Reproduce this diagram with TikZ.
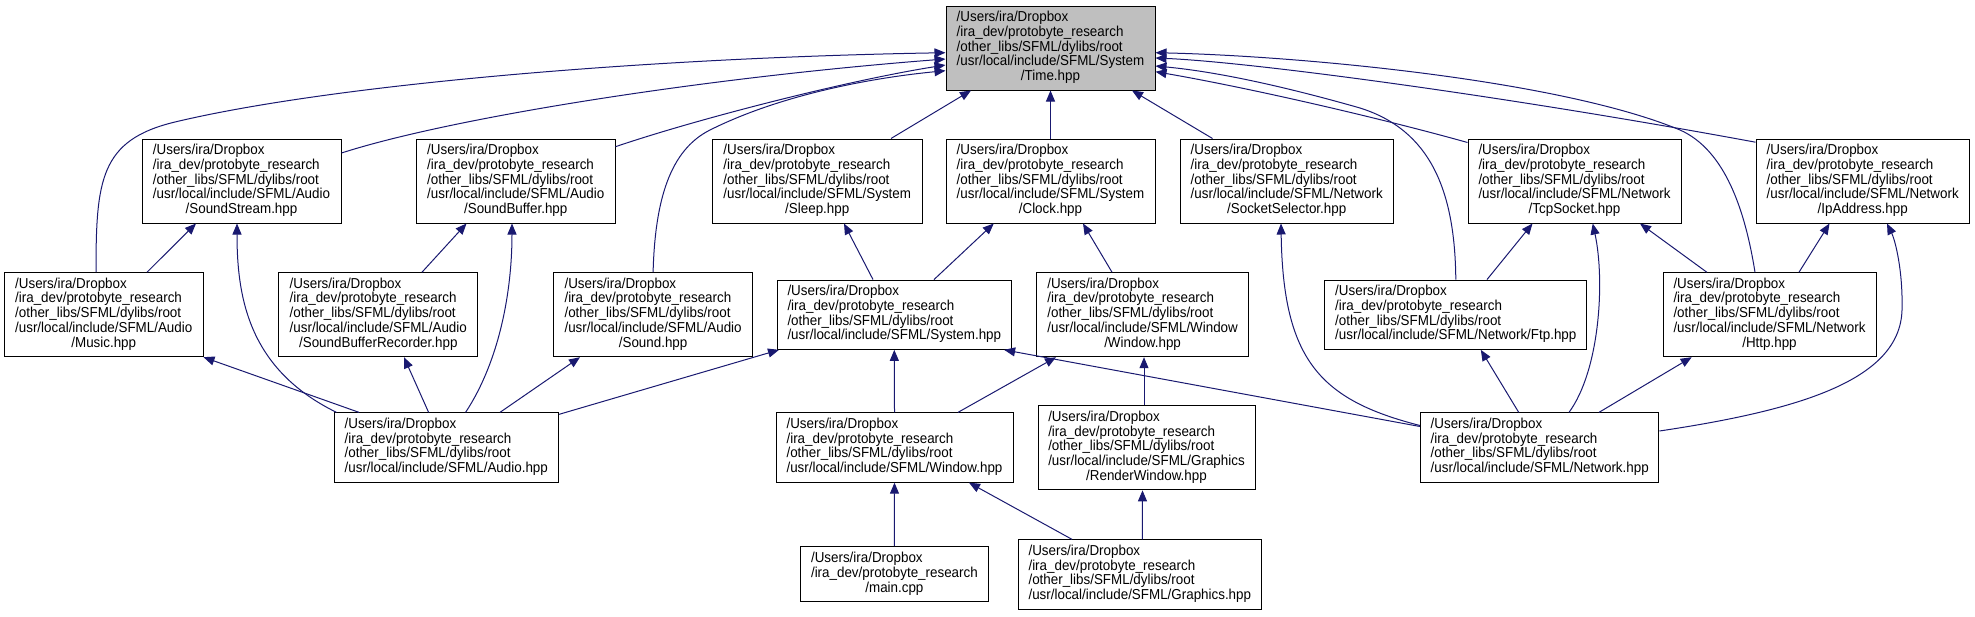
\documentclass[tikz,border=0pt]{standalone}
\usepackage{fontspec}
\setmainfont{Liberation Sans}[FakeStretch=0.93]
\usetikzlibrary{arrows.meta}
\definecolor{DoxNavy}{RGB}{25,25,112}
\definecolor{DoxGray}{RGB}{191,191,191}
\newcommand{\lastc}[1]{\multicolumn{1}{@{}c@{}}{#1}}
\newcommand{\hdrtext}[1]{\begin{tabular}{@{}l@{}}#1\end{tabular}}
\tikzset{
  hdrbox/.style={draw=black,line width=1pt,inner sep=0pt,minimum height=84pt,
    font=\fontsize{14.4}{14.7}\selectfont},
  shortbox/.style={hdrbox,minimum height=69.3pt},
  focusbox/.style={hdrbox,fill=DoxGray},
  incflow/.style={{Triangle[length=11pt,width=9pt]}-,draw=DoxNavy,line width=1pt}
}

\begin{document}
\begin{tikzpicture}[x=1pt,y=-1pt]
  \useasboundingbox (0,0) rectangle (1975,616);
  \node[focusbox,minimum width=209pt] (time) at (1050.5,48) {\hdrtext{/Users/ira/Dropbox\\/ira\_dev/protobyte\_research\\/other\_libs/SFML/dylibs/root\\/usr/local/include/SFML/System\\\lastc{/Time.hpp}}};
  \node[hdrbox,minimum width=199pt] (soundstream) at (241.5,181) {\hdrtext{/Users/ira/Dropbox\\/ira\_dev/protobyte\_research\\/other\_libs/SFML/dylibs/root\\/usr/local/include/SFML/Audio\\\lastc{/SoundStream.hpp}}};
  \node[hdrbox,minimum width=198.5pt] (soundbuffer) at (515.75,181) {\hdrtext{/Users/ira/Dropbox\\/ira\_dev/protobyte\_research\\/other\_libs/SFML/dylibs/root\\/usr/local/include/SFML/Audio\\\lastc{/SoundBuffer.hpp}}};
  \node[hdrbox,minimum width=209.5pt] (sleep) at (817.25,181) {\hdrtext{/Users/ira/Dropbox\\/ira\_dev/protobyte\_research\\/other\_libs/SFML/dylibs/root\\/usr/local/include/SFML/System\\\lastc{/Sleep.hpp}}};
  \node[hdrbox,minimum width=209pt] (clock) at (1050.5,181) {\hdrtext{/Users/ira/Dropbox\\/ira\_dev/protobyte\_research\\/other\_libs/SFML/dylibs/root\\/usr/local/include/SFML/System\\\lastc{/Clock.hpp}}};
  \node[hdrbox,minimum width=213.4pt] (socketsel) at (1286.7,181) {\hdrtext{/Users/ira/Dropbox\\/ira\_dev/protobyte\_research\\/other\_libs/SFML/dylibs/root\\/usr/local/include/SFML/Network\\\lastc{/SocketSelector.hpp}}};
  \node[hdrbox,minimum width=213pt] (tcpsocket) at (1574.5,181) {\hdrtext{/Users/ira/Dropbox\\/ira\_dev/protobyte\_research\\/other\_libs/SFML/dylibs/root\\/usr/local/include/SFML/Network\\\lastc{/TcpSocket.hpp}}};
  \node[hdrbox,minimum width=213.4pt] (ipaddress) at (1862.7,181) {\hdrtext{/Users/ira/Dropbox\\/ira\_dev/protobyte\_research\\/other\_libs/SFML/dylibs/root\\/usr/local/include/SFML/Network\\\lastc{/IpAddress.hpp}}};
  \node[hdrbox,minimum width=198.5pt] (music) at (103.75,314.7) {\hdrtext{/Users/ira/Dropbox\\/ira\_dev/protobyte\_research\\/other\_libs/SFML/dylibs/root\\/usr/local/include/SFML/Audio\\\lastc{/Music.hpp}}};
  \node[hdrbox,minimum width=198.7pt] (sbrecorder) at (378.3,314.7) {\hdrtext{/Users/ira/Dropbox\\/ira\_dev/protobyte\_research\\/other\_libs/SFML/dylibs/root\\/usr/local/include/SFML/Audio\\\lastc{/SoundBufferRecorder.hpp}}};
  \node[hdrbox,minimum width=199pt] (sound) at (653.1,314.7) {\hdrtext{/Users/ira/Dropbox\\/ira\_dev/protobyte\_research\\/other\_libs/SFML/dylibs/root\\/usr/local/include/SFML/Audio\\\lastc{/Sound.hpp}}};
  \node[shortbox,minimum width=234.6pt] (system) at (894.3,314.7) {\hdrtext{/Users/ira/Dropbox\\/ira\_dev/protobyte\_research\\/other\_libs/SFML/dylibs/root\\/usr/local/include/SFML/System.hpp}};
  \node[hdrbox,minimum width=212pt] (windowwin) at (1142.6,314.7) {\hdrtext{/Users/ira/Dropbox\\/ira\_dev/protobyte\_research\\/other\_libs/SFML/dylibs/root\\/usr/local/include/SFML/Window\\\lastc{/Window.hpp}}};
  \node[shortbox,minimum width=261.7pt] (ftp) at (1455.8,314.7) {\hdrtext{/Users/ira/Dropbox\\/ira\_dev/protobyte\_research\\/other\_libs/SFML/dylibs/root\\/usr/local/include/SFML/Network/Ftp.hpp}};
  \node[hdrbox,minimum width=213pt] (http) at (1769.5,314.7) {\hdrtext{/Users/ira/Dropbox\\/ira\_dev/protobyte\_research\\/other\_libs/SFML/dylibs/root\\/usr/local/include/SFML/Network\\\lastc{/Http.hpp}}};
  \node[shortbox,minimum width=224.5pt] (audio) at (446.25,447.5) {\hdrtext{/Users/ira/Dropbox\\/ira\_dev/protobyte\_research\\/other\_libs/SFML/dylibs/root\\/usr/local/include/SFML/Audio.hpp}};
  \node[shortbox,minimum width=237pt] (window) at (894.5,447.5) {\hdrtext{/Users/ira/Dropbox\\/ira\_dev/protobyte\_research\\/other\_libs/SFML/dylibs/root\\/usr/local/include/SFML/Window.hpp}};
  \node[hdrbox,minimum width=217pt] (renderwin) at (1146.5,447.85) {\hdrtext{/Users/ira/Dropbox\\/ira\_dev/protobyte\_research\\/other\_libs/SFML/dylibs/root\\/usr/local/include/SFML/Graphics\\\lastc{/RenderWindow.hpp}}};
  \node[shortbox,minimum width=238.5pt] (network) at (1539.7,447.5) {\hdrtext{/Users/ira/Dropbox\\/ira\_dev/protobyte\_research\\/other\_libs/SFML/dylibs/root\\/usr/local/include/SFML/Network.hpp}};
  \node[hdrbox,minimum width=188pt,minimum height=55.3pt] (maincpp) at (894.4,574.3) {\hdrtext{/Users/ira/Dropbox\\/ira\_dev/protobyte\_research\\\lastc{/main.cpp}}};
  \node[shortbox,minimum width=243.6pt] (graphics) at (1139.8,574.5) {\hdrtext{/Users/ira/Dropbox\\/ira\_dev/protobyte\_research\\/other\_libs/SFML/dylibs/root\\/usr/local/include/SFML/Graphics.hpp}};

  \draw[incflow] ([yshift=-4.7]time.west) .. controls (640,58) and (330,85) .. (175,122) .. controls (100,140) and (96,180) .. ([xshift=-7.75]music.north);
  \draw[incflow] ([yshift=-11]time.west) .. controls (700,78) and (450,118) .. ([yshift=28]soundstream.east);
  \draw[incflow] ([yshift=-17]time.west) .. controls (850,80) and (700,118) .. ([yshift=34.3]soundbuffer.east);
  \draw[incflow] ([yshift=-22.7]time.west) .. controls (870,78) and (780,95) .. (710,130) .. controls (670,150) and (655,200) .. (sound.north);
  \draw[incflow] ([xshift=-79.5]time.south) -- ([xshift=73.75]sleep.north);
  \draw[incflow] (time.south) -- (clock.north);
  \draw[incflow] ([xshift=81.5]time.south) -- ([xshift=-74.2]socketsel.north);
  \draw[incflow] ([yshift=-23.7]time.east) .. controls (1250,88) and (1380,118) .. ([yshift=-4]tcpsocket.north west);
  \draw[incflow] ([yshift=-10]time.east) .. controls (1250,62) and (1500,95) .. ([yshift=-3.7]ipaddress.north west);
  \draw[incflow] ([yshift=-18]time.east) .. controls (1220,72) and (1290,88) .. (1360,108) .. controls (1430,130) and (1455,190) .. (ftp.north);
  \draw[incflow] ([yshift=-4.7]time.east) .. controls (1300,56) and (1560,80) .. (1680,130) .. controls (1725,150) and (1745,210) .. ([xshift=-14.5]http.north);

  \draw[incflow] ([xshift=-45.5]soundstream.south) -- ([xshift=43.25]music.north);
  \draw[incflow] ([xshift=-4.5]soundstream.south) .. controls (237,300) and (250,370) .. ([xshift=3]audio.north west);
  \draw[incflow] ([xshift=-49.25]soundbuffer.south) -- ([xshift=43.7]sbrecorder.north);
  \draw[incflow] ([xshift=-3.75]soundbuffer.south) .. controls (512,290) and (500,360) .. ([xshift=19.35]audio.north);
  \draw[incflow] (music.south east) -- ([xshift=-87.25]audio.north);
  \draw[incflow] ([xshift=25.7]sbrecorder.south) -- ([xshift=-17.65]audio.north);
  \draw[incflow] ([xshift=-73.1]sound.south) -- ([xshift=53.75]audio.north);
  \draw[incflow] ([xshift=2.5]system.south west) -- ([yshift=-2]audio.north east);

  \draw[incflow] ([xshift=26.75]sleep.south) -- ([xshift=-21.3]system.north);
  \draw[incflow] ([xshift=-56.75]clock.south) -- ([xshift=39.7]system.north);
  \draw[incflow] ([xshift=32.5]clock.south) -- ([xshift=-30.6]windowwin.north);
  \draw[incflow] (system.south) -- (window.north);
  \draw[incflow] ([xshift=-86.6]windowwin.south) -- ([xshift=63.5]window.north);
  \draw[incflow] ([xshift=1.4]windowwin.south) -- ([xshift=-2.5]renderwin.north);
  \draw[incflow] (window.south) -- (maincpp.north);
  \draw[incflow] ([xshift=74.5]window.south) -- ([xshift=-67.8]graphics.north);
  \draw[incflow] ([xshift=-4]renderwin.south) -- ([xshift=2.6]graphics.north);

  \draw[incflow] ([xshift=-5.7]socketsel.south) .. controls (1283,360) and (1320,400) .. ([yshift=22]network.west);
  \draw[incflow] ([xshift=-8]system.south east) -- ([yshift=21]network.west);
  \draw[incflow] ([xshift=25]ftp.south) -- ([xshift=-21]network.north);
  \draw[incflow] ([xshift=18.2]tcpsocket.south) .. controls (1605,280) and (1600,370) .. ([xshift=29.3]network.north);
  \draw[incflow] ([xshift=-77.8]http.south) -- ([xshift=59.3]network.north);
  \draw[incflow] ([xshift=24.3]ipaddress.south) .. controls (1895,240) and (1903,270) .. (1902,310) .. controls (1900,380) and (1800,410) .. ([yshift=16.5]network.east);
  \draw[incflow] ([xshift=-42]tcpsocket.south) -- ([xshift=31.2]ftp.north);
  \draw[incflow] ([xshift=65.5]tcpsocket.south) -- ([xshift=-62.7]http.north);
  \draw[incflow] ([xshift=-33.2]ipaddress.south) -- ([xshift=29.5]http.north);
\end{tikzpicture}
\end{document}
